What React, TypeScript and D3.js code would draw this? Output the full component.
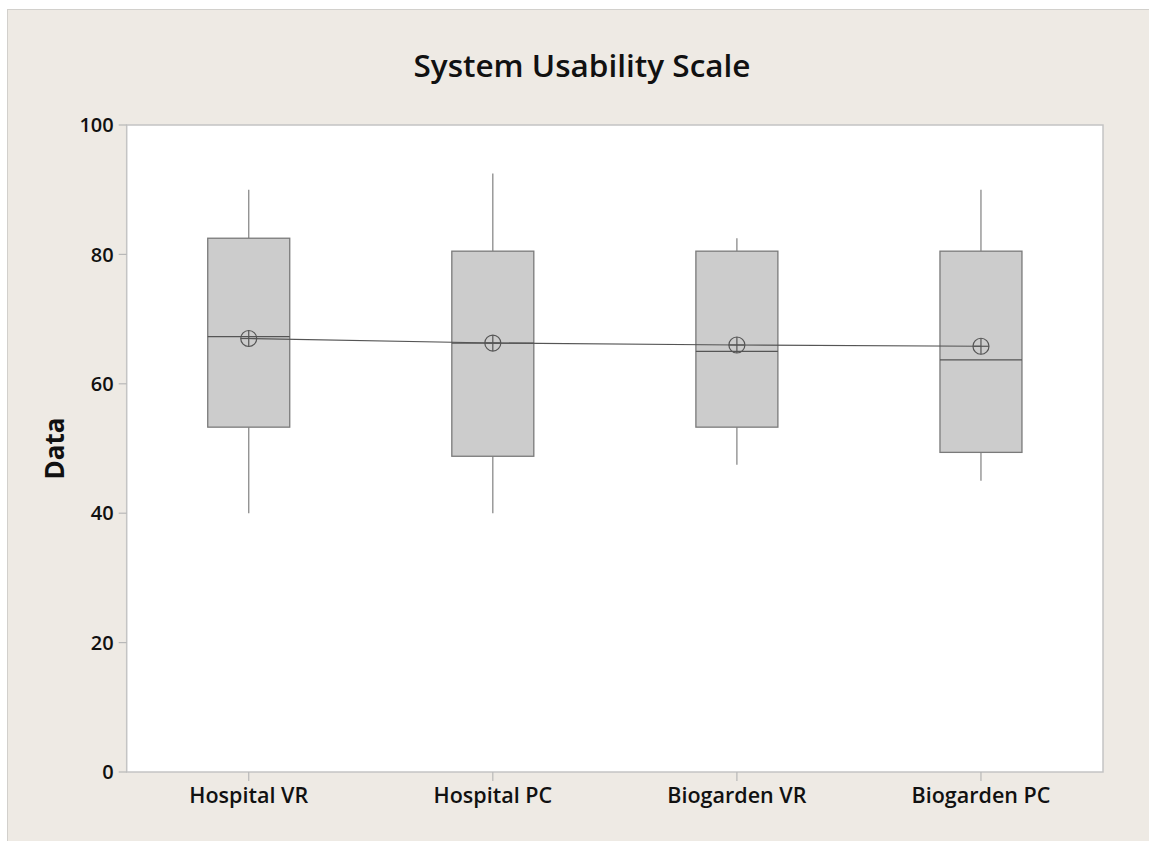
import React from "react";
import * as d3 from "d3";

const categories = ["Hospital VR", "Hospital PC", "Biogarden VR", "Biogarden PC"];
const whiskerLow = [40, 40, 47.5, 45];
const q1 = [53.3, 48.8, 53.3, 49.4];
const median = [67.3, 66.3, 65.0, 63.7];
const q3 = [82.5, 80.5, 80.5, 80.5];
const whiskerHigh = [90, 92.5, 82.5, 90];
const means = [67.0, 66.3, 66.0, 65.8];
const yTicks = [0, 20, 40, 60, 80, 100];

const W = 1149;
const H = 841;
const plot = { left: 126.7, right: 1103, top: 125, bottom: 772 };
const FONT = "'Open Sans', 'Noto Sans', sans-serif";

export default function App() {
  const x = d3.scaleBand<string>().domain(categories).range([plot.left, plot.right]).padding(0);
  const y = d3.scaleLinear().domain([0, 100]).range([plot.bottom, plot.top]);
  const boxW = 82;
  const cx = (c: string) => (x(c) as number) + x.bandwidth() / 2;
  const meanLine = d3
    .line<number>()
    .x((_, i) => cx(categories[i]))
    .y((d) => y(d));

  return (
    <svg
      width={W}
      height={H}
      style={{ position: "absolute", left: 0, top: 0, background: "#ffffff" }}
    >
      <rect x={7} y={9} width={W - 7} height={H - 9} fill="#eeeae4" />
      <line x1={7.5} y1={9} x2={7.5} y2={H} stroke="#d2d0cc" />
      <line x1={7} y1={9.5} x2={W} y2={9.5} stroke="#d2d0cc" />

      <text
        x={582}
        y={77}
        textAnchor="middle"
        fontFamily={FONT}
        fontWeight={600}
        fontSize={31.5}
        fill="#111"
      >
        System Usability Scale
      </text>

      <rect
        x={plot.left}
        y={plot.top}
        width={plot.right - plot.left}
        height={plot.bottom - plot.top}
        fill="#ffffff"
        stroke="#c4c4c4"
        strokeWidth={1.5}
      />

      {yTicks.map((t) => (
        <g key={t}>
          <line x1={plot.left - 8} x2={plot.left} y1={y(t)} y2={y(t)} stroke="#b8b8b8" strokeWidth={1.2} />
          <text
            x={plot.left - 13}
            y={y(t)}
            dy="0.36em"
            textAnchor="end"
            fontFamily={FONT}
            fontWeight={600}
            fontSize={20}
            fill="#111"
          >
            {t}
          </text>
        </g>
      ))}

      {categories.map((c) => (
        <g key={c}>
          <line x1={cx(c)} x2={cx(c)} y1={plot.bottom} y2={plot.bottom + 9} stroke="#b8b8b8" strokeWidth={1.2} />
          <text
            x={cx(c)}
            y={803}
            textAnchor="middle"
            fontFamily={FONT}
            fontWeight={600}
            fontSize={21.5}
            fill="#111"
          >
            {c}
          </text>
        </g>
      ))}

      <text
        transform={`translate(64, ${(plot.top + plot.bottom) / 2}) rotate(-90)`}
        textAnchor="middle"
        fontFamily={FONT}
        fontWeight={700}
        fontSize={26}
        fill="#111"
      >
        Data
      </text>

      {categories.map((c, i) => {
        const xc = cx(c);
        return (
          <g key={c}>
            <line x1={xc} x2={xc} y1={y(whiskerHigh[i])} y2={y(q3[i])} stroke="#8a8a8a" strokeWidth={1.3} />
            <line x1={xc} x2={xc} y1={y(q1[i])} y2={y(whiskerLow[i])} stroke="#8a8a8a" strokeWidth={1.3} />
            <rect
              x={xc - boxW / 2}
              y={y(q3[i])}
              width={boxW}
              height={y(q1[i]) - y(q3[i])}
              fill="#cccccc"
              stroke="#7a7a7a"
              strokeWidth={1.3}
            />
            <line
              x1={xc - boxW / 2}
              x2={xc + boxW / 2}
              y1={y(median[i])}
              y2={y(median[i])}
              stroke="#555555"
              strokeWidth={1.3}
            />
          </g>
        );
      })}

      <path d={meanLine(means) as string} fill="none" stroke="#555555" strokeWidth={1.1} />

      {categories.map((c, i) => {
        const xc = cx(c);
        const ym = y(means[i]);
        const r = 8;
        return (
          <g key={c + "m"}>
            <circle cx={xc} cy={ym} r={r} fill="none" stroke="#555555" strokeWidth={1.2} />
            <line x1={xc - r} x2={xc + r} y1={ym} y2={ym} stroke="#555555" strokeWidth={1.2} />
            <line x1={xc} x2={xc} y1={ym - r} y2={ym + r} stroke="#555555" strokeWidth={1.2} />
          </g>
        );
      })}
    </svg>
  );
}
